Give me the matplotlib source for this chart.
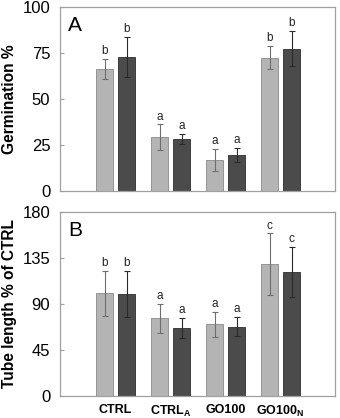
import matplotlib
matplotlib.use("Agg")
import matplotlib.pyplot as plt
import numpy as np

plt.rcParams['font.family'] = ['Liberation Sans', 'DejaVu Sans']
plt.rcParams['mathtext.fontset'] = 'custom'
plt.rcParams['mathtext.rm'] = 'Liberation Sans'
plt.rcParams['mathtext.bf'] = 'Liberation Sans:bold'

categories = ['CTRL', 'CTRL$_\\mathbf{A}$', 'GO100', 'GO100$_\\mathbf{N}$']

germ_light = [66.5, 29.2, 16.8, 72.5]
germ_light_err = [5.5, 7.0, 6.1, 6.3]
germ_dark = [73.0, 28.2, 19.6, 77.4]
germ_dark_err = [10.9, 2.8, 3.8, 9.6]
germ_letters_light = ['b', 'a', 'a', 'b']
germ_letters_dark = ['b', 'a', 'a', 'b']

tube_light = [100.5, 76.0, 70.0, 129.0]
tube_light_err = [22.0, 14.2, 12.5, 30.0]
tube_dark = [100.2, 66.3, 67.7, 121.0]
tube_dark_err = [22.5, 10.0, 9.3, 24.5]
tube_letters_light = ['b', 'a', 'a', 'c']
tube_letters_dark = ['b', 'a', 'a', 'c']

light_c = '#b4b4b4'
dark_c = '#4b4b4b'
spine_c = '#a0a0a0'

fig = plt.figure(figsize=(3.4, 4.18), dpi=100)
axA = fig.add_axes([60/340, 1-191/418, 275/340, 184/418])
axB = fig.add_axes([60/340, 1-396/418, 275/340, 184/418])

x = np.arange(len(categories))
w = 0.31
off = 0.2

def panel(ax, light, lerr, dark, derr, ll, dl, ymax, yticks, letter, ylabel):
    ax.bar(x - off, light, w, color=light_c, edgecolor='#8a8a8a', linewidth=0.6)
    ax.bar(x + off, dark, w, color=dark_c, edgecolor='#2e2e2e', linewidth=0.6)
    ax.errorbar(x - off, light, yerr=lerr, fmt='none', ecolor='#6e6e6e', elinewidth=0.8, capsize=2.5, capthick=0.8)
    ax.errorbar(x + off, dark, yerr=derr, fmt='none', ecolor='#2a2a2a', elinewidth=0.8, capsize=2.5, capthick=0.8)
    for i in range(len(x)):
        ax.text(x[i] - off, light[i] + lerr[i] + ymax*0.01, ll[i], ha='center', va='bottom', fontsize=8.5, color='#222222')
        ax.text(x[i] + off, dark[i] + derr[i] + ymax*0.01, dl[i], ha='center', va='bottom', fontsize=8.5, color='#222222')
    ax.set_xlim(-1.01, 3.99)
    ax.set_ylim(0, ymax)
    ax.set_yticks(yticks)
    ax.tick_params(axis='y', labelsize=12, length=3, width=0.8, color=spine_c, pad=7, direction='in')
    ax.tick_params(axis='x', length=0)
    for s in ax.spines.values():
        s.set_color(spine_c)
        s.set_linewidth(0.9)
    ax.text(0.03, 0.95, letter, transform=ax.transAxes, fontsize=15, ha='left', va='top')
    ax.set_ylabel(ylabel, fontsize=11.2, fontweight='bold', va='center')
    ax.yaxis.set_label_coords(-0.182, 0.5)

panel(axA, germ_light, germ_light_err, germ_dark, germ_dark_err,
      germ_letters_light, germ_letters_dark, 100, [0, 25, 50, 75, 100], 'A', 'Germination %')
axA.set_xticks([])

panel(axB, tube_light, tube_light_err, tube_dark, tube_dark_err,
      tube_letters_light, tube_letters_dark, 180, [0, 45, 90, 135, 180], 'B', 'Tube length % of CTRL')
axB.set_xticks(x)
axB.set_xticklabels(categories, fontsize=9, fontweight='bold')
axB.tick_params(axis='x', pad=6)

fig.savefig('out.png', dpi=100)
